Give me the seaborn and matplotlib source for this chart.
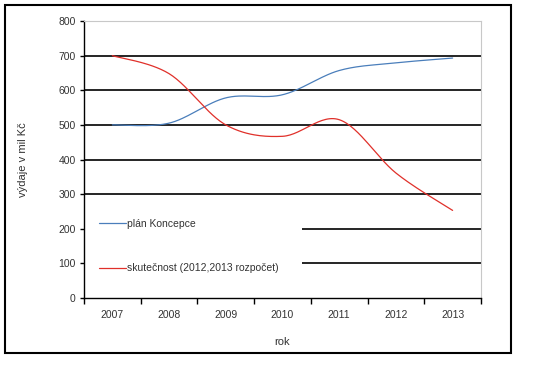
import numpy as np
import pandas as pd
import matplotlib
matplotlib.use("Agg")
import matplotlib.pyplot as plt
import seaborn as sns
from matplotlib.patches import Rectangle

# data
years = ["2007", "2008", "2009", "2010", "2011", "2012", "2013"]
plan = [500, 505, 578, 587, 657, 679, 693]
skutecnost = [700, 648, 500, 467, 515, 361, 253]
labels = ["plán Koncepce", "skutečnost (2012,2013 rozpočet)"]
colors = ["#4a7ebb", "#e0302a"]


def smooth(y, n=30):
    # excel-like smoothed line (catmull-rom through the points)
    x = np.arange(len(y)) + 0.5
    y = np.asarray(y, float)
    px = np.concatenate([[x[0]], x, [x[-1]]])
    py = np.concatenate([[y[0]], y, [y[-1]]])
    xs, ys = [], []
    for i in range(1, len(px) - 2):
        t = np.linspace(0, 1, n, endpoint=False)
        for p, out in ((px, xs), (py, ys)):
            p0, p1, p2, p3 = p[i - 1], p[i], p[i + 1], p[i + 2]
            c1 = p1 + (p2 - p0) / 6
            c2 = p2 - (p3 - p1) / 6
            out.extend((1 - t) ** 3 * p1 + 3 * (1 - t) ** 2 * t * c1
                       + 3 * (1 - t) * t ** 2 * c2 + t ** 3 * p2)
    xs.append(x[-1])
    ys.append(y[-1])
    return np.array(xs), np.array(ys)


sns.set_style("white")
plt.rcParams["font.family"] = ["Liberation Sans", "DejaVu Sans"]

fig = plt.figure(figsize=(5.5, 3.66), dpi=100)
ax = fig.add_axes([0.1527, 0.1858, 0.7218, 0.7568])

frames = []
for lab, vals in zip(labels, [plan, skutecnost]):
    sx, sy = smooth(vals)
    frames.append(pd.DataFrame({"x": sx, "y": sy, "serie": lab}))
df = pd.concat(frames, ignore_index=True)

sns.lineplot(data=df, x="x", y="y", hue="serie", palette=colors, sort=False,
             linewidth=0.9, ax=ax, zorder=5, estimator=None)

ax.set_xlim(0, 7)
ax.set_ylim(0, 800)
ax.set_yticks(range(0, 801, 100))
ax.grid(False)
for v in range(100, 800, 100):
    ax.axhline(v, color="black", linewidth=1.2, zorder=1)

# white area behind the legend hides the grid (kept under the spines)
ax.add_patch(Rectangle((0, 0.05), 0.549, 0.28, transform=ax.transAxes,
                       facecolor="white", edgecolor="none", zorder=1.5))

ax.set_xticks(range(0, 8))
ax.set_xticklabels([])
ax.set_xticks(np.arange(len(years)) + 0.5, minor=True)
ax.set_xticklabels(years, minor=True)
ax.tick_params(axis="x", which="major", direction="out", length=4, width=1,
               color="black", bottom=True)
ax.tick_params(axis="x", which="minor", length=0, pad=9, labelsize=7.5,
               labelcolor="#333333")
ax.tick_params(axis="y", direction="out", length=3, width=1, color="black",
               left=True, labelsize=7.5, labelcolor="#333333", pad=3)

for s in ["top", "right"]:
    ax.spines[s].set_color("#c8c8c8")
    ax.spines[s].set_linewidth(0.8)
for s in ["left", "bottom"]:
    ax.spines[s].set_color("black")
    ax.spines[s].set_linewidth(1.0)

ax.set_xlabel("rok", fontsize=8, color="#333333", labelpad=12)
ax.set_ylabel("výdaje v mil Kč", fontsize=8, color="#333333", labelpad=22)

ax.legend(loc="upper left", bbox_to_anchor=(0.038, 0.285), frameon=False,
          fontsize=7.5, handlelength=2.6, handletextpad=0.1, labelspacing=3.3,
          borderpad=0, borderaxespad=0, labelcolor="#333333")

fig.add_artist(Rectangle((0.009, 0.0355), 0.92, 0.95, transform=fig.transFigure,
                         fill=False, edgecolor="black", linewidth=1.5))

fig.savefig("out.png", dpi=100)
